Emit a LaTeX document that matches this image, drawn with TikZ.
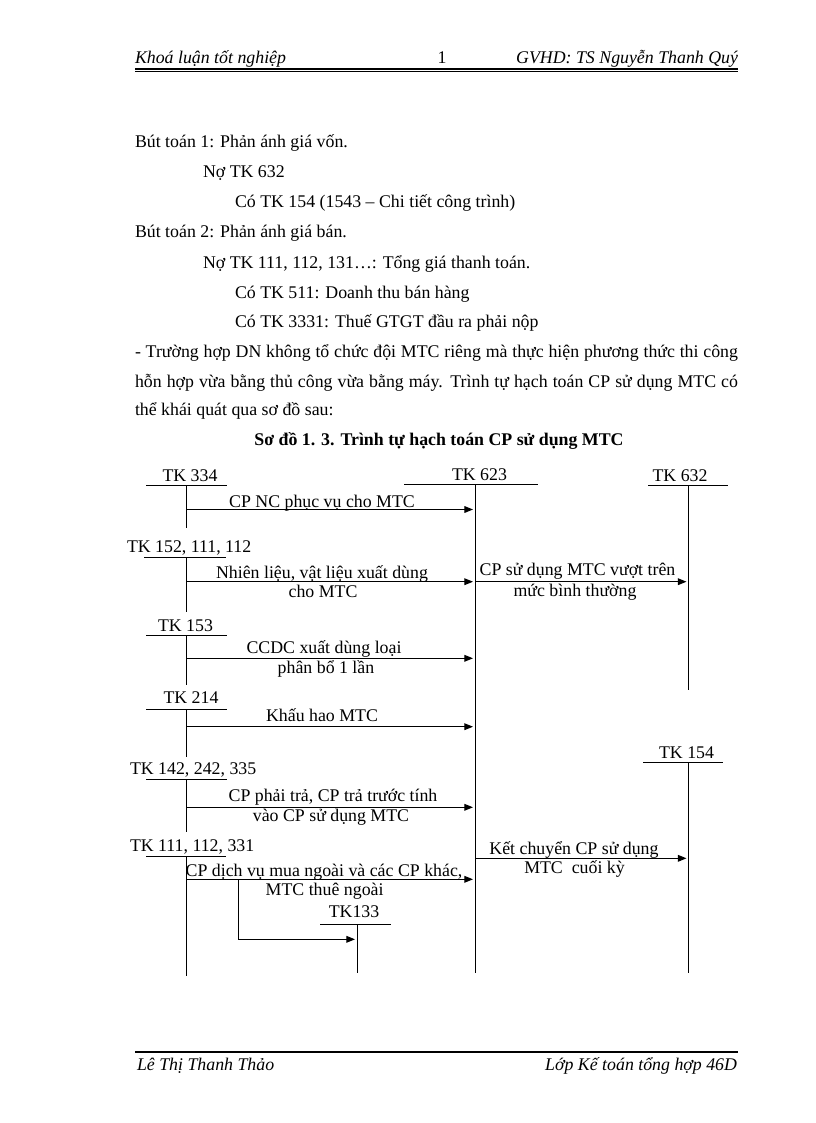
\documentclass[tikz,border=0pt]{standalone}
\usepackage{fontspec}
\setmainfont{Liberation Serif}
\usetikzlibrary{arrows.meta}
\begin{document}
\begin{tikzpicture}[x=0.75pt,y=-0.75pt,
  every node/.style={font=\fontsize{13.37pt}{16pt}\selectfont, inner sep=0pt, outer sep=0pt},
  txt/.style={anchor=base west},
  txte/.style={anchor=base east},
  lbl/.style={anchor=base},
  ln/.style={line width=0.75pt, draw=black},
  arr/.style={ln, -{Triangle[length=6.4pt,width=5pt]}},
  hdr/.style={font=\fontsize{13.37pt}{16pt}\selectfont\itshape}]
\fill[white] (0,0) rectangle (816,1123);
\useasboundingbox (0,0) rectangle (816,1123);

% ---------- header ----------
\node[txt,hdr] (h1) at (135,64) {Khoá luận tốt nghiệp};
\node[lbl] (h2) at (442,64) {1};
\node[txte,hdr] (h3) at (738,64) {GVHD: TS Nguyễn Thanh Quý};
\coordinate (hl1) at (135,69); \coordinate (hr1) at (738,69);
\coordinate (hl2) at (135,71.5); \coordinate (hr2) at (738,71.5);
\draw[line width=1.2pt] (hl1) -- (hr1);
\draw[line width=0.45pt] (hl2) -- (hr2);

% ---------- body text ----------
\node[txt] (t1) at (135,148) {Bút toán 1: Phản ánh giá vốn.};
\node[txt] (t2) at (203,178) {Nợ TK 632};
\node[txt] (t3) at (235,208) {Có TK 154 (1543 – Chi tiết công trình)};
\node[txt] (t4) at (135,238) {Bút toán 2: Phản ánh giá bán.};
\node[txt] (t5) at (203,268) {Nợ TK 111, 112, 131…: Tổng giá thanh toán.};
\node[txt] (t6) at (235,298) {Có TK 511: Doanh thu bán hàng};
\node[txt] (t7) at (235,327) {Có TK 3331: Thuế GTGT đầu ra phải nộp};
\node[txt] (p1) at (135,357) {\makebox[452.25pt][s]{- Trường hợp DN không tổ chức đội MTC riêng mà thực hiện phương thức thi công}};
\node[txt] (p2) at (135,387) {\makebox[452.25pt][s]{hỗn hợp vừa bằng thủ công vừa bằng máy. Trình tự hạch toán CP sử dụng MTC có}};
\node[txt] (p3) at (135,415) {thể khái quát qua sơ đồ sau:};
\node[lbl,font=\fontsize{13.37pt}{16pt}\selectfont\bfseries] (title) at (439,445) {Sơ đồ 1. 3. Trình tự hạch toán CP sử dụng MTC};

% ---------- T accounts ----------
% TK 623
\node[lbl] (n623) at (479.5,480) {TK 623};
\coordinate (a623l) at (404,484); \coordinate (a623r) at (538,484);
\coordinate (a623t) at (475,484); \coordinate (a623b) at (475,973);
\draw[ln] (a623l) -- (a623r); \draw[ln] (a623t) -- (a623b);
% TK 632
\node[lbl] (n632) at (680,481) {TK 632};
\coordinate (a632l) at (648,485); \coordinate (a632r) at (728,485);
\coordinate (a632t) at (688,485); \coordinate (a632b) at (688,690);
\draw[ln] (a632l) -- (a632r); \draw[ln] (a632t) -- (a632b);
% TK 154
\node[lbl] (n154) at (686.5,758) {TK 154};
\coordinate (a154l) at (643,762); \coordinate (a154r) at (723,762);
\coordinate (a154t) at (688,762); \coordinate (a154b) at (688,973);
\draw[ln] (a154l) -- (a154r); \draw[ln] (a154t) -- (a154b);
% TK 334
\node[lbl] (n334) at (190,481.5) {TK 334};
\coordinate (a334l) at (146,485); \coordinate (a334r) at (227,485);
\coordinate (a334t) at (186,485); \coordinate (a334b) at (186,528);
\draw[ln] (a334l) -- (a334r); \draw[ln] (a334t) -- (a334b);
% TK 152, 111, 112
\node[txt] (n152) at (127,552) {TK 152, 111, 112};
\coordinate (a152l) at (144,557.7); \coordinate (a152r) at (226,557.7);
\coordinate (a152t) at (186,557.7); \coordinate (a152b) at (186,612);
\draw[ln] (a152l) -- (a152r); \draw[ln] (a152t) -- (a152b);
% TK 153
\node[lbl] (n153) at (185.5,631.5) {TK 153};
\coordinate (a153l) at (146,635); \coordinate (a153r) at (227,635);
\coordinate (a153t) at (186,635); \coordinate (a153b) at (186,685);
\draw[ln] (a153l) -- (a153r); \draw[ln] (a153t) -- (a153b);
% TK 214
\node[lbl] (n214) at (191,703) {TK 214};
\coordinate (a214l) at (146,709); \coordinate (a214r) at (227,709);
\coordinate (a214t) at (186,709); \coordinate (a214b) at (186,757);
\draw[ln] (a214l) -- (a214r); \draw[ln] (a214t) -- (a214b);
% TK 142, 242, 335
\node[txt] (n142) at (130,774) {TK 142, 242, 335};
\coordinate (a142l) at (146,779); \coordinate (a142r) at (227,779);
\coordinate (a142t) at (186,779); \coordinate (a142b) at (186,832);
\draw[ln] (a142l) -- (a142r); \draw[ln] (a142t) -- (a142b);
% TK 111, 112, 331
\node[txt] (n111) at (130,851.5) {TK 111, 112, 331};
\coordinate (a111l) at (146,856.7); \coordinate (a111r) at (226,856.7);
\coordinate (a111t) at (186,856.7); \coordinate (a111b) at (186,976);
\draw[ln] (a111l) -- (a111r); \draw[ln] (a111t) -- (a111b);
% TK133
\node[lbl] (n133) at (354,917.5) {TK133};
\coordinate (a133l) at (320,924.3); \coordinate (a133r) at (391,924.3);
\coordinate (a133t) at (357,924.3); \coordinate (a133b) at (357,973);
\draw[ln] (a133l) -- (a133r); \draw[ln] (a133t) -- (a133b);

% ---------- flows ----------
\coordinate (f1s) at (187,509.5); \coordinate (f1e) at (473,509.5);
\draw[arr] (f1s) -- (f1e);
\node[lbl] (f1a) at (322,507) {CP NC phục vụ cho MTC};

\coordinate (f2s) at (186,581.7); \coordinate (f2e) at (473,581.7);
\draw[arr] (f2s) -- (f2e);
\node[lbl] (f2a) at (322,578) {Nhiên liệu, vật liệu xuất dùng};
\node[lbl] (f2b) at (323,597.5) {cho MTC};

\coordinate (g1s) at (475,581.7); \coordinate (g1e) at (686.5,581.7);
\draw[arr] (g1s) -- (g1e);
\node[lbl] (g1a) at (577.5,575) {CP sử dụng MTC vượt trên};
\node[lbl] (g1b) at (575,596) {mức bình thường};

\coordinate (f3s) at (186,658.3); \coordinate (f3e) at (473,658.3);
\draw[arr] (f3s) -- (f3e);
\node[lbl] (f3a) at (324,653) {CCDC xuất dùng loại};
\node[lbl] (f3b) at (326,673) {phân bổ 1 lần};

\coordinate (f4s) at (186,726.7); \coordinate (f4e) at (473,726.7);
\draw[arr] (f4s) -- (f4e);
\node[lbl] (f4a) at (322,721.7) {Khấu hao MTC};

\coordinate (f5s) at (186,807.3); \coordinate (f5e) at (473,807.3);
\draw[arr] (f5s) -- (f5e);
\node[lbl] (f5a) at (333,801) {CP phải trả, CP trả trước tính};
\node[lbl] (f5b) at (331,821.7) {vào CP sử dụng MTC};

\coordinate (f6s) at (186,879.3); \coordinate (f6e) at (473,879.3);
\draw[arr] (f6s) -- (f6e);
\node[lbl] (f6a) at (324,876.7) {CP dịch vụ mua ngoài và các CP khác,};
\node[lbl] (f6b) at (324.6,895.7) {MTC thuê ngoài};

\coordinate (bk1) at (238,879.3); \coordinate (bk2) at (238,939.3); \coordinate (bk3) at (355,939.3);
\draw[arr] (bk1) -- (bk2) -- (bk3);

\coordinate (g2s) at (475,858.3); \coordinate (g2e) at (686.5,858.3);
\draw[arr] (g2s) -- (g2e);
\node[lbl] (g2a) at (574,854.3) {Kết chuyển CP sử dụng};
\node[lbl] (g2b) at (574.5,873.3) {MTC\ \ cuối kỳ};

% ---------- footer ----------
\coordinate (fl) at (135,1052); \coordinate (fr) at (738,1052);
\draw[line width=1.5pt] (fl) -- (fr);
\node[txt,hdr] (ft1) at (137,1070) {Lê Thị Thanh Thảo};
\node[txte,hdr] (ft2) at (737,1070) {Lớp Kế toán tổng hợp 46D};
\end{tikzpicture}
\end{document}
